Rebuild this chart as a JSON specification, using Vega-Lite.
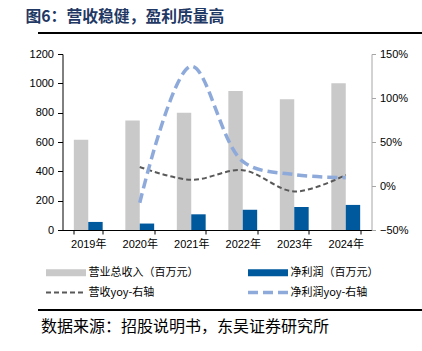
{
  "$schema": "https://vega.github.io/schema/vega-lite/v6.json",
  "padding": {"left": 14, "top": 9, "right": 5, "bottom": 5},
  "background": "white",
  "title": {
    "text": "图6：营收稳健，盈利质量高",
    "anchor": "start",
    "dx": 11,
    "offset": 6,
    "font": "Noto Sans CJK SC",
    "fontSize": 15.8,
    "fontWeight": "bold",
    "color": "#1f3864"
  },
  "datasets": {
    "bars": [
      {"year": "2019年", "series": "营业总收入（百万元）", "value": 615},
      {"year": "2019年", "series": "净利润（百万元）", "value": 55},
      {"year": "2020年", "series": "营业总收入（百万元）", "value": 747},
      {"year": "2020年", "series": "净利润（百万元）", "value": 44},
      {"year": "2021年", "series": "营业总收入（百万元）", "value": 800},
      {"year": "2021年", "series": "净利润（百万元）", "value": 107},
      {"year": "2022年", "series": "营业总收入（百万元）", "value": 948},
      {"year": "2022年", "series": "净利润（百万元）", "value": 138},
      {"year": "2023年", "series": "营业总收入（百万元）", "value": 891},
      {"year": "2023年", "series": "净利润（百万元）", "value": 157},
      {"year": "2024年", "series": "营业总收入（百万元）", "value": 1000},
      {"year": "2024年", "series": "净利润（百万元）", "value": 171}
    ],
    "yoy": [
      {"year": "2020年", "rev_yoy": 0.216, "np_yoy": -0.19},
      {"year": "2021年", "rev_yoy": 0.07, "np_yoy": 1.36},
      {"year": "2022年", "rev_yoy": 0.18, "np_yoy": 0.28},
      {"year": "2023年", "rev_yoy": -0.062, "np_yoy": 0.13},
      {"year": "2024年", "rev_yoy": 0.125, "np_yoy": 0.095}
    ],
    "one": [{"k": 0}]
  },
  "spacing": 9,
  "center": true,
  "resolve": {"scale": {"color": "independent"}, "legend": {"color": "independent"}},
  "vconcat": [
    {
      "width": 403,
      "height": 6,
      "view": {"stroke": null},
      "data": {"name": "one"},
      "mark": {"type": "rule", "color": "#000000", "strokeWidth": 2},
      "encoding": {"y": {"datum": 1, "type": "quantitative", "axis": null, "scale": {"domain": [0, 1]}}}
    },
    {
      "width": 309,
      "height": 176,
      "view": {"stroke": null},
      "encoding": {
        "x": {
          "field": "year",
          "type": "nominal",
          "scale": {"paddingInner": 0.44, "paddingOuter": 0.22},
          "axis": {
            "title": null,
            "labelAngle": 0,
            "tickBand": "extent",
            "domainColor": "#000000",
            "tickColor": "#000000",
            "tickSize": 4,
            "labelPadding": 4,
            "labelFont": "Liberation Sans, Noto Sans CJK SC",
            "labelFontSize": 11,
            "labelColor": "#000000"
          }
        }
      },
      "layer": [
        {
          "data": {"name": "bars"},
          "mark": {"type": "bar"},
          "encoding": {
            "xOffset": {
              "field": "series",
              "type": "nominal",
              "sort": ["营业总收入（百万元）", "净利润（百万元）"],
              "scale": {"paddingInner": 0, "paddingOuter": 0}
            },
            "y": {
              "field": "value",
              "type": "quantitative",
              "scale": {"domain": [0, 1200], "nice": false},
              "axis": {
                "title": null,
                "values": [0, 200, 400, 600, 800, 1000, 1200],
                "format": "d",
                "grid": false,
                "minExtent": 48,
                "domainColor": "#000000",
                "tickColor": "#000000",
                "tickSize": 5,
                "labelPadding": 4,
                "labelFont": "Liberation Sans",
                "labelFontSize": 11,
                "labelColor": "#000000"
              }
            },
            "color": {
              "field": "series",
              "type": "nominal",
              "scale": {
                "domain": ["营业总收入（百万元）", "净利润（百万元）", "营收yoy-右轴", "净利润yoy-右轴"],
                "range": ["#c9c9c9", "#00599d", "#595959", "#8eaadb"]
              },
              "legend": {
                "title": null,
                "orient": "none",
                "direction": "horizontal",
                "legendX": -17,
                "legendY": 213,
                "columns": 2,
                "columnPadding": 35,
                "rowPadding": -19,
                "symbolType": "stroke",
                "symbolSize": 1600,
                "symbolOffset": 15,
                "labelOffset": 17,
                "labelFont": "Noto Sans CJK SC",
                "labelFontSize": 11,
                "labelColor": "#000000",
                "labelLimit": 300,
                "encode": {
                  "symbols": {
                    "update": {
                      "shape": {"value": "stroke"},
                      "stroke": {"scale": "color", "field": "value"},
                      "strokeCap": {"value": "butt"},
                      "strokeWidth": {"signal": "datum.value == '营收yoy-右轴' ? 2 : datum.value == '净利润yoy-右轴' ? 3.5 : 7"},
                      "strokeDash": {"signal": "datum.value == '营收yoy-右轴' ? [5, 3] : datum.value == '净利润yoy-右轴' ? [10, 5] : [1, 0]"},
                      "opacity": {"value": 1}
                    }
                  }
                }
              }
            }
          }
        },
        {
          "data": {"name": "yoy"},
          "encoding": {
            "y": {
              "field": "rev_yoy",
              "type": "quantitative",
              "scale": {"domain": [-0.5, 1.5], "nice": false},
              "axis": {
                "orient": "right",
                "title": null,
                "values": [-0.5, 0, 0.5, 1, 1.5],
                "format": ".0%",
                "grid": false,
                "minExtent": 46,
                "domainColor": "#a6a6a6",
                "tickColor": "#a6a6a6",
                "tickSize": 4,
                "labelPadding": 4,
                "labelFont": "Liberation Sans",
                "labelFontSize": 11,
                "labelColor": "#000000"
              }
            }
          },
          "layer": [
            {
              "mark": {"type": "line", "interpolate": "catmull-rom", "strokeWidth": 2, "strokeDash": [5, 3]},
              "encoding": {"color": {"datum": "营收yoy-右轴"}}
            },
            {
              "mark": {"type": "line", "interpolate": "catmull-rom", "strokeWidth": 3.5, "strokeDash": [10, 5]},
              "encoding": {
                "y": {"field": "np_yoy", "type": "quantitative"},
                "color": {"datum": "净利润yoy-右轴"}
              }
            }
          ]
        }
      ],
      "resolve": {"scale": {"y": "independent"}}
    },
    {
      "width": 403,
      "height": 1,
      "view": {"stroke": null},
      "data": {"name": "one"},
      "title": {
        "text": "数据来源：招股说明书，东吴证券研究所",
        "orient": "bottom",
        "anchor": "start",
        "dx": 4,
        "offset": 8,
        "font": "Noto Sans CJK SC",
        "fontSize": 16,
        "fontWeight": "normal",
        "color": "#000000"
      },
      "mark": {"type": "rule", "color": "#000000", "strokeWidth": 2},
      "encoding": {"y": {"datum": 1, "type": "quantitative", "axis": null, "scale": {"domain": [0, 1]}}}
    }
  ]
}
